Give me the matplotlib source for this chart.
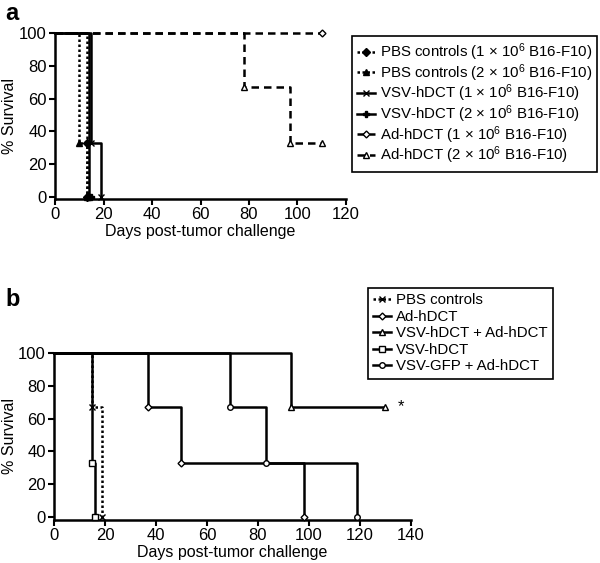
import matplotlib
matplotlib.use("Agg")
import matplotlib.pyplot as plt

plt.rcParams['font.family'] = ['Liberation Sans', 'DejaVu Sans']
plt.rcParams['mathtext.fontset'] = 'custom'
plt.rcParams['mathtext.rm'] = 'Liberation Sans'
plt.rcParams['mathtext.it'] = 'Liberation Sans:italic'
plt.rcParams['mathtext.bf'] = 'Liberation Sans:bold'

# ---- Panel a data (days, % survival) ----
a_labels = ['PBS controls (1 × 10$^{6}$ B16-F10)',
            'PBS controls (2 × 10$^{6}$ B16-F10)',
            'VSV-hDCT (1 × 10$^{6}$ B16-F10)',
            'VSV-hDCT (2 × 10$^{6}$ B16-F10)',
            'Ad-hDCT (1 × 10$^{6}$ B16-F10)',
            'Ad-hDCT (2 × 10$^{6}$ B16-F10)']
a_days = [[0, 13, 13], [0, 10, 13], [0, 15, 19], [0, 14, 15], [0, 110], [0, 78, 97, 110]]
a_surv = [[100, 33, 0], [100, 33, 0], [100, 33, 0], [100, 0, 0], [100, 100], [100, 67, 33, 33]]
a_ticks_x = [0, 20, 40, 60, 80, 100, 120]

# ---- Panel b data ----
b_labels = ['PBS controls', 'Ad-hDCT', 'VSV-hDCT + Ad-hDCT', 'VSV-hDCT', 'VSV-GFP + Ad-hDCT']
b_days = [[0, 15, 19], [0, 37, 50, 98], [0, 93, 130], [0, 15, 16], [0, 69, 83, 119]]
b_surv = [[100, 67, 0], [100, 67, 33, 0], [100, 67, 67], [100, 33, 0], [100, 67, 33, 0]]
b_ticks_x = [0, 20, 40, 60, 80, 100, 120, 140]
y_ticks = [0, 20, 40, 60, 80, 100]

fig = plt.figure(figsize=(6.0, 5.63), dpi=100)

a_styles = [dict(ls=(0, (1, 1)), marker='D', mfc='black', ms=4),
            dict(ls=(0, (1, 1)), marker='^', mfc='black', ms=5),
            dict(ls='-', marker='x', mfc='black', ms=5),
            dict(ls='-', marker='P', mfc='black', ms=5),
            dict(ls=(0, (3, 2)), marker='D', mfc='white', ms=3.5),
            dict(ls=(0, (3, 2)), marker='^', mfc='white', ms=5)]

b_styles = [dict(ls=(0, (1, 1)), marker='x', mfc='black', ms=5),
            dict(ls='-', marker='D', mfc='white', ms=3.5),
            dict(ls='-', marker='^', mfc='white', ms=5),
            dict(ls='-', marker='s', mfc='white', ms=4),
            dict(ls='-', marker='o', mfc='white', ms=4)]

def style_axes(ax, xmax, ymin, xticks):
    ax.set_xlim(0, xmax)
    ax.set_ylim(ymin, 100)
    ax.set_xticks(xticks)
    ax.set_yticks(y_ticks)
    for s in ['top', 'right']:
        ax.spines[s].set_visible(False)
    for s in ['left', 'bottom']:
        ax.spines[s].set_linewidth(1.8)
    ax.tick_params(direction='out', length=4, width=1.5, labelsize=12, pad=2)
    ax.set_ylabel('% Survival', fontsize=11.5)
    ax.set_xlabel('Days post-tumor challenge', fontsize=11.5, labelpad=1)

def leg_kw(spacing):
    return dict(loc='upper left', frameon=True, fancybox=False, edgecolor='black',
                fontsize=10.8, handlelength=1.2, handletextpad=0.3, borderpad=0.35,
                labelspacing=spacing, borderaxespad=0, framealpha=1)

# Panel a
axa = fig.add_axes([55/600, 1-199/563, (346-55)/600, (199-33)/563])
handles = []
for d, s, lab, st in zip(a_days, a_surv, a_labels, a_styles):
    h, = axa.plot(d, s, drawstyle='steps-post', color='black', lw=1.8,
                  ls=st['ls'], marker=st['marker'], mfc=st['mfc'], mec='black',
                  ms=st['ms'], mew=1.0, markevery=list(range(1, len(d))),
                  clip_on=False, label=lab, zorder=3)
    handles.append(h)
style_axes(axa, 120, -1.2, a_ticks_x)
axa.yaxis.set_label_coords((17-55)/291, 0.5)
fig.legend(handles=handles, bbox_to_anchor=(352/600, 1-36/563), **leg_kw(-0.06)).get_frame().set_linewidth(1.2)
fig.text(5/600, 1-14/563, 'a', fontsize=17, fontweight='bold', va='center', ha='left')

# Panel b
axb = fig.add_axes([54/600, 1-520/563, (411-54)/600, (520-352.7)/563])
handles = []
for d, s, lab, st in zip(b_days, b_surv, b_labels, b_styles):
    h, = axb.plot(d, s, drawstyle='steps-post', color='black', lw=1.8,
                  ls=st['ls'], marker=st['marker'], mfc=st['mfc'], mec='black',
                  ms=st['ms'], mew=1.0, markevery=list(range(1, len(d))),
                  clip_on=False, label=lab, zorder=3)
    handles.append(h)
style_axes(axb, 140, -1.6, b_ticks_x)
axb.yaxis.set_label_coords((17-54)/357, 0.5)
axb.text(136, 67, '*', fontsize=12, ha='center', va='center')
fig.legend(handles=handles, bbox_to_anchor=(368/600, 1-288/563), **leg_kw(0.17)).get_frame().set_linewidth(1.2)
fig.text(5/600, 1-299/563, 'b', fontsize=17, fontweight='bold', va='center', ha='left')

fig.savefig('out.png', dpi=100)
